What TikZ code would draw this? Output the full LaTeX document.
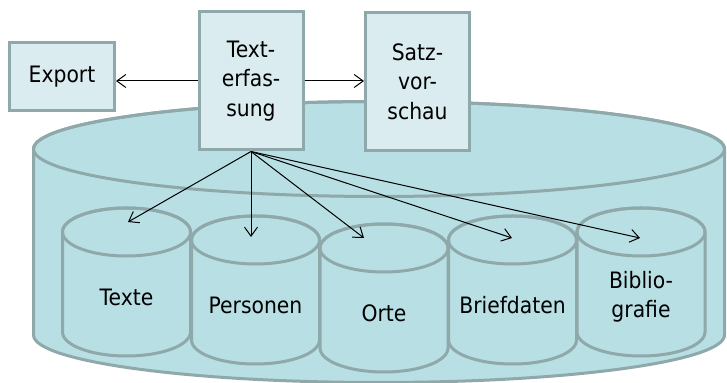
\documentclass[tikz,border=0pt]{standalone}
\usepackage{fontspec}
\setmainfont{DejaVu Sans}[FakeStretch=0.9]
\usetikzlibrary{arrows.meta}
\definecolor{boxfill}{RGB}{218,236,239}
\definecolor{cylfill}{RGB}{184,223,227}
\definecolor{edgegray}{RGB}{143,169,171}
\begin{document}
\begin{tikzpicture}[
    x=0.5pt, y=-0.5pt,
    every node/.style={font=\fontsize{11.3pt}{14.75pt}\selectfont},
    % Box styles
    modul/.style={draw=edgegray, fill=boxfill, line width=1.5pt, align=center, inner sep=0pt, minimum width=52pt, minimum height=69pt},
    % Cylinder styles
    dbrand/.style={draw=edgegray, fill=cylfill, line width=1.5pt},
    dblabel/.style={align=center, inner sep=0pt},
    pics/dbcyl/.style={code={
        \filldraw[dbrand] (-64,0) -- (-64,100) arc[start angle=180, end angle=0, x radius=64, y radius=24] -- (64,0) arc[start angle=0, end angle=-180, x radius=64, y radius=24] -- cycle;
        \draw[dbrand, fill=none] (0,0) ellipse[x radius=64, y radius=24];
        \node[dblabel] (-label) at (0,65) {#1};
    }},
    % Arrow styles
    datenfluss/.style={-{Straight Barb[length=4.5pt, width=6.5pt]}, line width=0.5pt},
]
\useasboundingbox (0,0) rectangle (727,383);
\clip (0,0) rectangle (727,383);

% === DATABASE (big cylinder) ===
\filldraw[dbrand] (33.5,149) -- (33.5,335) arc[start angle=180, end angle=0, x radius=345.5, y radius=47.5] -- (724.5,149) arc[start angle=0, end angle=-180, x radius=345.5, y radius=47.5] -- cycle;
\draw[dbrand, fill=none] (379,149) ellipse[x radius=345.5, y radius=47.5];

% === MODULES (top) ===
\node[modul, minimum width=52.5pt, minimum height=34pt] (export) at (62,76.5) {Export};
\node[modul] (erfassung) at (251,81) {Text-\\erfas-\\sung};
\node[modul] (vorschau) at (417.5,81.5) {Satz-\\vor-\\schau};

\draw[datenfluss] (erfassung.west) -- (erfassung.west -| export.east);
\draw[datenfluss] (erfassung.east) -- (erfassung.east -| vorschau.west);

% === TABLES (small cylinders) ===
\pic (texte) at (126.5,232) {dbcyl=Texte};
\pic (personen) at (255.5,240) {dbcyl=Personen};
\pic (orte) at (384,248) {dbcyl=Orte};
\pic (briefdaten) at (512.5,240) {dbcyl=Briefdaten};
\pic (biblio) at (641,232) {dbcyl={Biblio-\\grafie}};

% arrow ends
\coordinate (texte-in) at (128,222);
\coordinate (personen-in) at (251,237);
\coordinate (orte-in) at (364,238);
\coordinate (briefdaten-in) at (512,238);
\coordinate (biblio-in) at (640,238);

\draw[datenfluss] (erfassung.south) -- (texte-in);
\draw[datenfluss] (erfassung.south) -- (personen-in);
\draw[datenfluss] (erfassung.south) -- (orte-in);
\draw[datenfluss] (erfassung.south) -- (briefdaten-in);
\draw[datenfluss] (erfassung.south) -- (biblio-in);

\end{tikzpicture}
\end{document}
